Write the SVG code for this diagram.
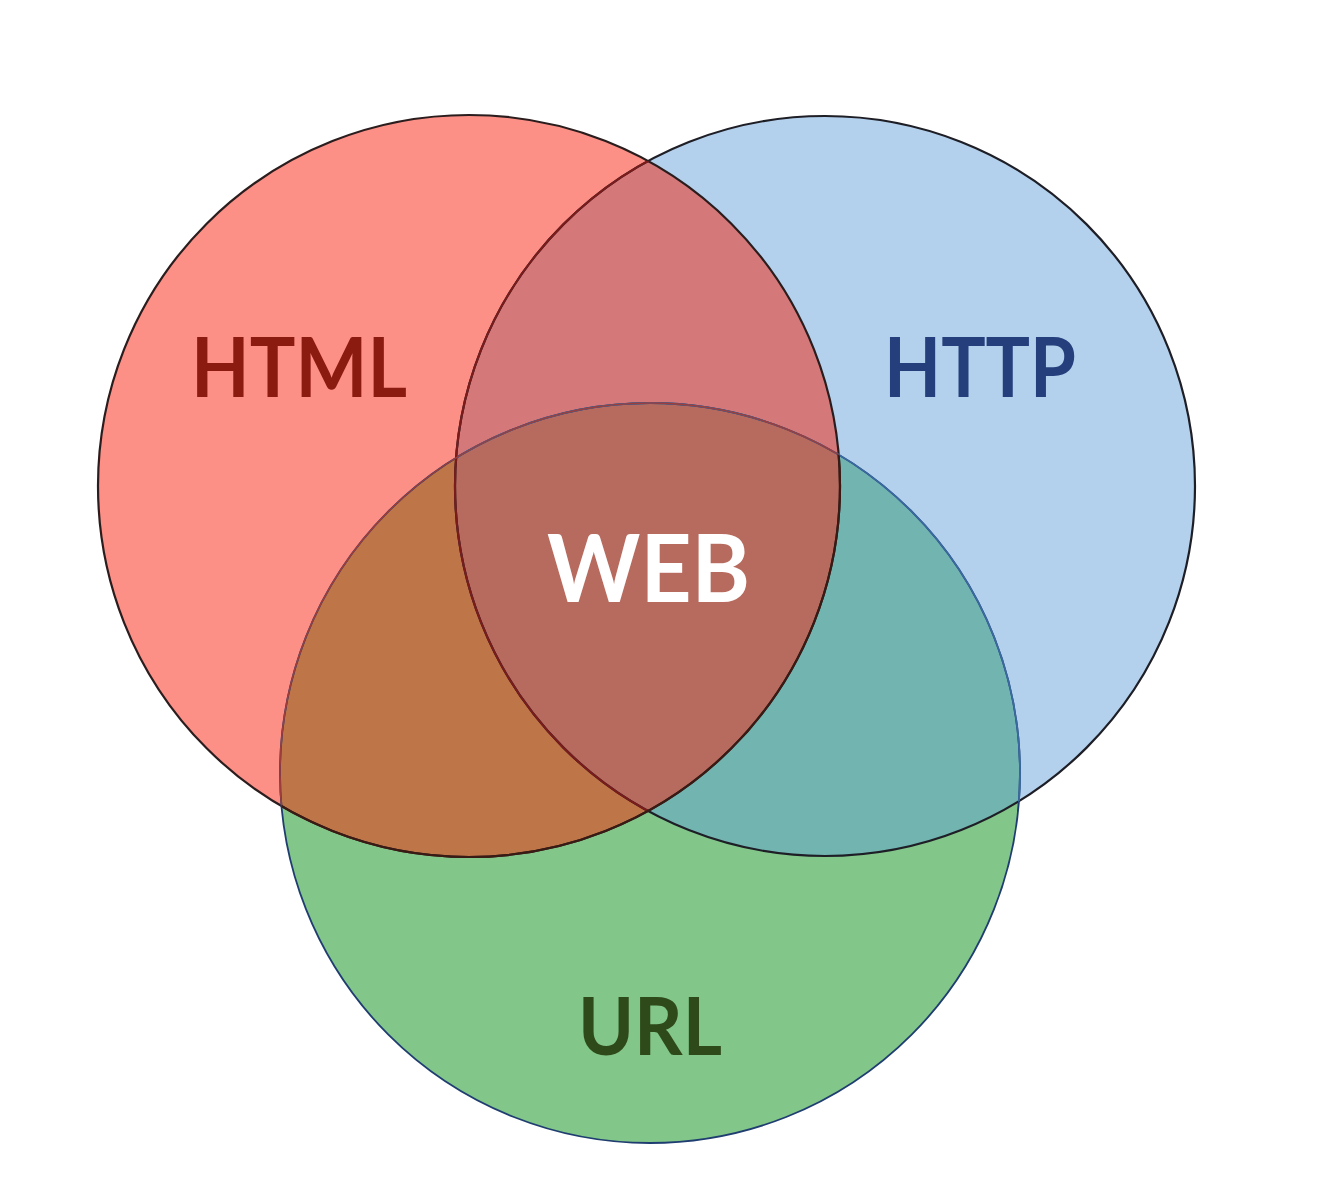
<svg xmlns="http://www.w3.org/2000/svg" width="1328" height="1202" viewBox="0 0 1328 1202">
  <style>
    .lbl { font-family: Lato, "Open Sans", "Liberation Sans", sans-serif; font-weight: 700; }
  </style>
  <defs>
    <clipPath id="clipRed"><circle cx="469" cy="486" r="371"/></clipPath>
    <clipPath id="clipBlue"><circle cx="825" cy="486" r="370"/></clipPath>
    <clipPath id="clipGreen"><circle cx="650" cy="773" r="370"/></clipPath>
  </defs>
  <rect width="1328" height="1202" fill="#ffffff"/>

  <g id="node-html">
    <circle cx="469" cy="486" r="371" fill="#FC8F86"/>
  </g>
  <g id="node-http">
    <circle cx="825" cy="486" r="370" fill="#B3D0EC"/>
  </g>
  <g id="node-url">
    <circle cx="650" cy="773" r="370" fill="#82C689"/>
  </g>

  <g id="overlaps">
    <circle cx="825" cy="486" r="370" fill="#D5787A" clip-path="url(#clipRed)"/>
    <circle cx="650" cy="773" r="370" fill="#BE7648" clip-path="url(#clipRed)"/>
    <circle cx="650" cy="773" r="370" fill="#72B4B0" clip-path="url(#clipBlue)"/>
    <g clip-path="url(#clipBlue)">
      <circle cx="650" cy="773" r="370" fill="#B76B5E" clip-path="url(#clipRed)"/>
    </g>
  </g>

  <g id="outlines" fill="none">
    <circle cx="469" cy="486" r="371" stroke="#2B1D1D" stroke-width="2.2"/>
    <circle cx="825" cy="486" r="370" stroke="#1E1E26" stroke-width="2.2"/>
    <circle cx="650" cy="773" r="370" stroke="#1F3D70" stroke-width="1.8"/>
    <g clip-path="url(#clipBlue)">
      <circle cx="650" cy="773" r="370" stroke="#3A6AA0" stroke-width="1.8"/>
    </g>
    <g clip-path="url(#clipRed)">
      <circle cx="825" cy="486" r="370" stroke="#7A1C1C" stroke-width="2.2"/>
      <circle cx="650" cy="773" r="370" stroke="#9A3E3E" stroke-width="1.6"/>
    </g>
    <g clip-path="url(#clipGreen)">
      <circle cx="469" cy="486" r="371" stroke="#3A1A14" stroke-width="2.2"/>
    </g>
  </g>

  <g id="labels">
    <text class="lbl" x="191" y="397" font-size="82" fill="#8B1A10" textLength="216" lengthAdjust="spacingAndGlyphs">HTML</text>
    <text class="lbl" x="884" y="397" font-size="82" fill="#243F7C" textLength="192" lengthAdjust="spacingAndGlyphs">HTTP</text>
    <text class="lbl" x="547" y="602" font-size="94" fill="#FFFFFF" textLength="203" lengthAdjust="spacingAndGlyphs">WEB</text>
    <text class="lbl" x="578" y="1055" font-size="81" fill="#2F4A1A" textLength="144" lengthAdjust="spacingAndGlyphs">URL</text>
  </g>
</svg>
